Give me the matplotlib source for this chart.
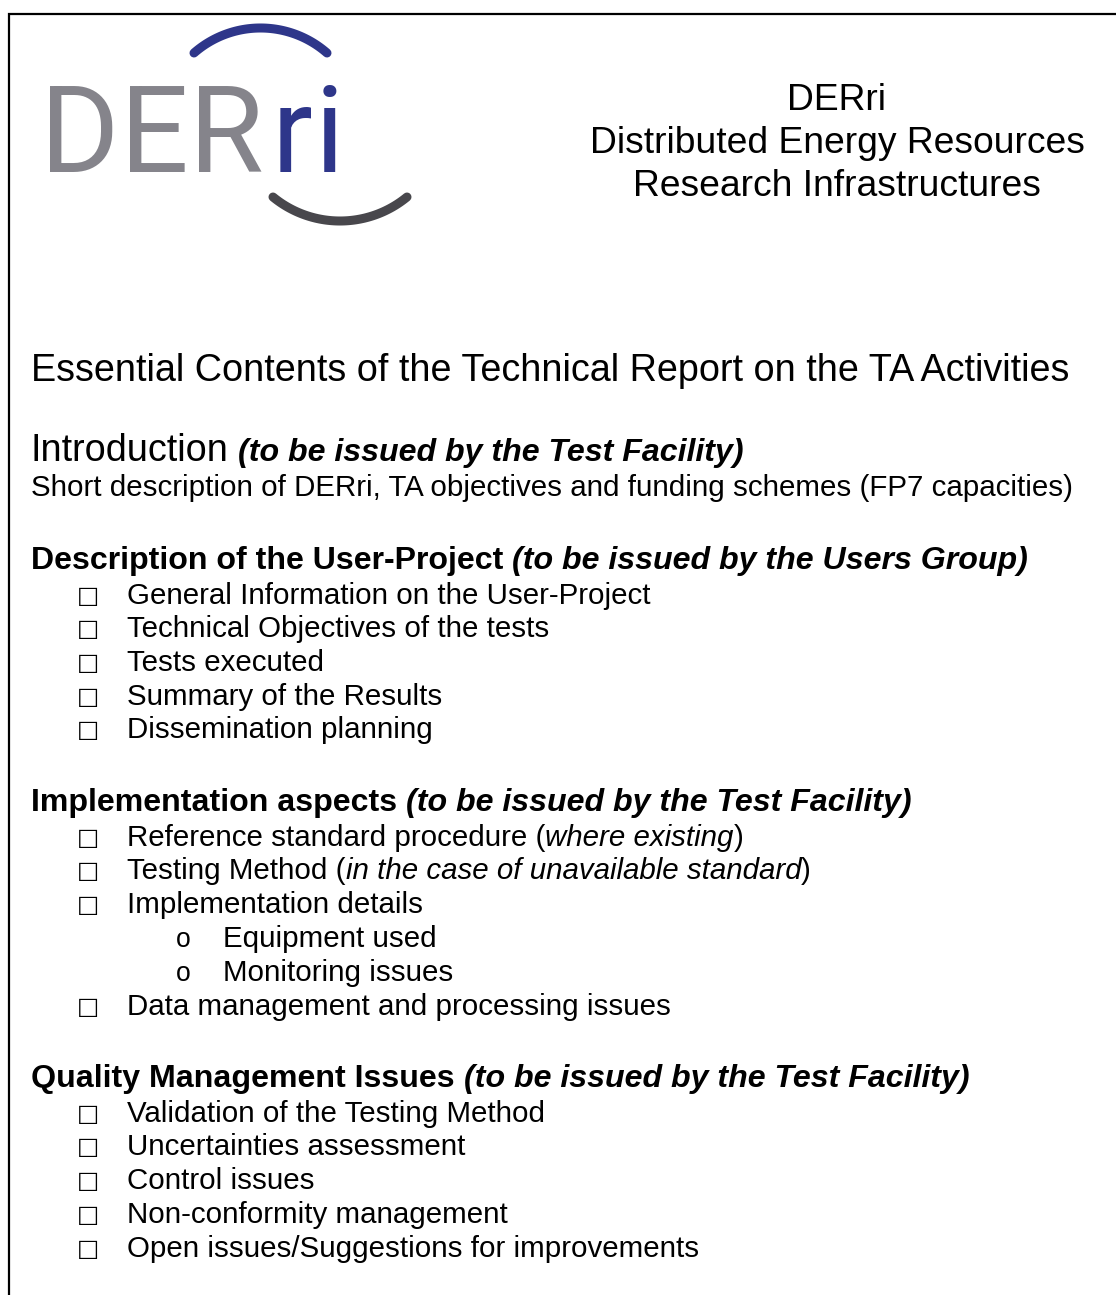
import matplotlib
matplotlib.use("Agg")
import matplotlib.pyplot as plt
import numpy as np
from matplotlib import font_manager

# ---------------- content ----------------
logo_gray_letters = ["D", "E", "R"]
logo_blue_letters = ["r", "i"]
header_lines = ["DERri", "Distributed Energy Resources", "Research Infrastructures"]
doc_title = "Essential Contents of the Technical Report on the TA Activities"
intro_heading = "Introduction"
intro_note = "(to be issued by the Test Facility)"
intro_text = "Short description of DERri, TA objectives and funding schemes (FP7 capacities)"
section_titles = ["Description of the User-Project", "Implementation aspects", "Quality Management Issues"]
section_notes = ["(to be issued by the Users Group)", "(to be issued by the Test Facility)",
                 "(to be issued by the Test Facility)"]
user_project_items = ["General Information on the User-Project", "Technical Objectives of the tests",
                      "Tests executed", "Summary of the Results", "Dissemination planning"]
# (upright prefix, italic part, upright suffix, level)
implementation_items = [("Reference standard procedure (", "where existing", ")", 1),
                        ("Testing Method (", "in the case of unavailable standard", ")", 1),
                        ("Implementation details", "", "", 1),
                        ("Equipment used", "", "", 2),
                        ("Monitoring issues", "", "", 2),
                        ("Data management and processing issues", "", "", 1)]
quality_items = ["Validation of the Testing Method", "Uncertainties assessment", "Control issues",
                 "Non-conformity management", "Open issues/Suggestions for improvements"]

# ---------------- layout ----------------
W, H = 1116, 1295
fig = plt.figure(figsize=(W / 100, H / 100), dpi=100)
ax = fig.add_axes([0, 0, 1, 1])
ax.set_xlim(0, W)
ax.set_ylim(H, 0)
ax.axis("off")
renderer = fig.canvas.get_renderer()

FONT = "Liberation Sans"
names = {f.name for f in font_manager.fontManager.ttflist}
LOGO_FONT = "Roboto" if "Roboto" in names else FONT


def width_of(s, size, weight="normal", style="normal", family=FONT):
    t = ax.text(0, 0, s, fontsize=size, fontweight=weight, fontstyle=style, family=family)
    w = t.get_window_extent(renderer).width
    t.remove()
    return w


def space_w(size, weight="normal", style="normal"):
    return width_of("x x", size, weight, style) - width_of("xx", size, weight, style)


def runs_width(runs):
    total = 0
    for s, size, weight, style in runs:
        if s.startswith(" "):
            total += space_w(size, weight, style)
            s = s[1:]
        if s:
            total += width_of(s, size, weight, style)
    return total


def draw_runs(x, y, runs, color="black"):
    for s, size, weight, style in runs:
        if s.startswith(" "):
            x += space_w(size, weight, style)
            s = s[1:]
        if not s:
            continue
        t = ax.text(x, y, s, fontsize=size, fontweight=weight, fontstyle=style, family=FONT,
                    va="baseline", ha="left", color=color)
        x += t.get_window_extent(renderer).width
    return x


def fit(s, target, weight="normal", style="normal"):
    return 20 * target / width_of(s, 20, weight, style)


def px(size):
    return size * 100 / 72


def baseline(center, size):
    return center + 0.34 * px(size)


header_size = fit(header_lines[1], 494)
title_size = fit(doc_title, 1036)
body_size = fit(intro_text, 1037)
ref_runs = [(section_titles[0], 20, "bold", "normal"), (" " + section_notes[0], 20, "bold", "italic")]
head_size = 20 * 996 / runs_width(ref_runs)

# ---------------- border ----------------
ax.plot([9, 9, W + 5], [H + 5, 14, 14], color="black", lw=1.6, solid_joinstyle="miter", clip_on=False)

# ---------------- logo ----------------
gray = "#85848b"
blue = "#2e368a"
dark = "#48474c"
cap_px = 86
logo_size = cap_px / 0.711 * 72 / 100
for letter, cx in zip(logo_gray_letters, [80, 154, 226]):
    ax.text(cx, 172, letter, fontsize=logo_size, family=LOGO_FONT, color=gray, ha="center", va="baseline")
for letter, cx in zip(logo_blue_letters, [292, 329]):
    ax.text(cx, 172, letter, fontsize=logo_size, family=LOGO_FONT, color=blue, ha="center", va="baseline")


def arc(x0, x1, yend, ypeak, color):
    c = (x1 - x0)
    s = abs(ypeak - yend)
    R = (c * c / 4 + s * s) / (2 * s)
    xc = (x0 + x1) / 2
    half = np.arcsin((c / 2) / R)
    th = np.linspace(-half, half, 80)
    if ypeak < yend:
        yc = ypeak + R
        xs, ys = xc + R * np.sin(th), yc - R * np.cos(th)
    else:
        yc = ypeak - R
        xs, ys = xc + R * np.sin(th), yc + R * np.cos(th)
    ax.plot(xs, ys, color=color, lw=6.5, solid_capstyle="round")


arc(194, 327, 53, 28, blue)
arc(273, 407, 197, 221, dark)

# ---------------- header ----------------
for line, cy in zip(header_lines, [97, 140, 183]):
    ax.text(837, baseline(cy, header_size), line, fontsize=header_size, family=FONT, ha="center", va="baseline")

# ---------------- title & intro ----------------
draw_runs(31, baseline(368, title_size), [(doc_title, title_size, "normal", "normal")])
draw_runs(31, baseline(448, title_size), [(intro_heading, title_size, "normal", "normal"),
                                          (" " + intro_note, head_size, "bold", "italic")])
draw_runs(31, baseline(486, body_size), [(intro_text, body_size, "normal", "normal")])

BOX_X, TXT_X = 88, 127
SUB_X, SUBTXT_X = 183, 223


def checkbox(cy):
    ax.text(BOX_X, baseline(cy, body_size) - 1, "\u25a1", fontsize=body_size * 0.8, family="DejaVu Sans",
            ha="center", va="baseline")


def heading(i, cy):
    draw_runs(31, baseline(cy, head_size), [(section_titles[i], head_size, "bold", "normal"),
                                            (" " + section_notes[i], head_size, "bold", "italic")])


heading(0, 558)
for item, cy in zip(user_project_items, [594, 627, 661, 695, 728]):
    checkbox(cy)
    draw_runs(TXT_X, baseline(cy, body_size), [(item, body_size, "normal", "normal")])

heading(1, 800)
for (pre, ital, post, level), cy in zip(implementation_items, [836, 869, 903, 937, 971, 1005]):
    if level == 1:
        checkbox(cy)
        x0 = TXT_X
    else:
        ax.text(SUB_X, baseline(cy, body_size), "o", fontsize=body_size * 0.9, family=FONT,
                ha="center", va="baseline")
        x0 = SUBTXT_X
    runs = [(pre, body_size, "normal", "normal")]
    if ital:
        runs += [(ital, body_size, "normal", "italic"), (post, body_size, "normal", "normal")]
    draw_runs(x0, baseline(cy, body_size), runs)

heading(2, 1076)
for item, cy in zip(quality_items, [1112, 1145, 1179, 1213, 1247]):
    checkbox(cy)
    draw_runs(TXT_X, baseline(cy, body_size), [(item, body_size, "normal", "normal")])

fig.savefig("out.png", dpi=100, facecolor="white")
